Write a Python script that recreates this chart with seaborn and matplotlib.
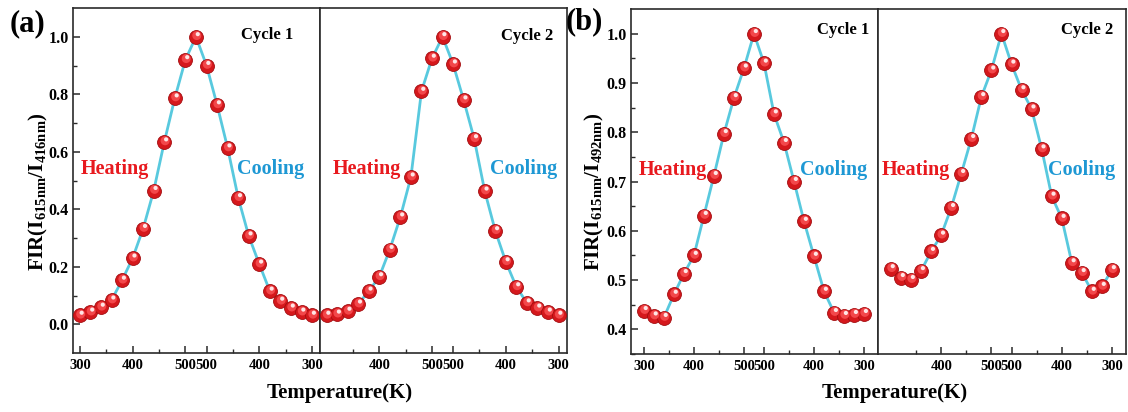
import matplotlib
matplotlib.use("Agg")
import matplotlib.pyplot as plt
import numpy as np
import pandas as pd
import seaborn as sns
from matplotlib.transforms import ScaledTranslation

# ---------------- data ----------------
step = list(range(23))                       # 11 heating points, peak, 11 cooling points
tick_pos = [0, 5, 10, 12, 17, 22]
tick_labels = ["300", "400", "500", "500", "400", "300"]
minor_pos = [2.5, 7.5, 14.5, 19.5]

a_cycle1 = [0.031, 0.042, 0.059, 0.084, 0.153, 0.230, 0.333, 0.465, 0.634, 0.787, 0.920, 1.000,
            0.900, 0.763, 0.613, 0.440, 0.307, 0.209, 0.115, 0.080, 0.056, 0.042, 0.031]
a_cycle2 = [0.031, 0.035, 0.045, 0.070, 0.115, 0.165, 0.260, 0.373, 0.512, 0.810, 0.925, 1.000,
            0.905, 0.780, 0.645, 0.463, 0.325, 0.217, 0.130, 0.074, 0.056, 0.042, 0.031]
b_cycle1 = [0.438, 0.427, 0.424, 0.471, 0.513, 0.550, 0.631, 0.712, 0.797, 0.870, 0.930, 1.000,
            0.940, 0.837, 0.779, 0.700, 0.619, 0.548, 0.477, 0.434, 0.428, 0.430, 0.432]
b_cycle2 = [0.523, 0.505, 0.501, 0.519, 0.558, 0.591, 0.647, 0.716, 0.787, 0.872, 0.926, 1.000,
            0.938, 0.886, 0.847, 0.766, 0.670, 0.625, 0.535, 0.515, 0.477, 0.487, 0.521]

LINE = "#58c9de"
RED = "#e8191e"
BLUE = "#1e98d4"

sns.set_theme(style="ticks")
plt.rcParams["font.family"] = ["Liberation Serif", "DejaVu Serif"]
plt.rcParams["text.color"] = "black"
plt.rcParams["axes.labelcolor"] = "black"
plt.rcParams["mathtext.fontset"] = "custom"
plt.rcParams["mathtext.rm"] = "Liberation Serif:bold"
plt.rcParams["mathtext.bf"] = "Liberation Serif:bold"
plt.rcParams["mathtext.it"] = "Liberation Serif:bold"

W, H = 1128, 412
fig = plt.figure(figsize=(W / 100, H / 100), dpi=100)


def px_axes(left, top, right, bottom):
    return fig.add_axes([left / W, 1 - bottom / H, (right - left) / W, (bottom - top) / H])


def draw(ax, vals):
    df = pd.DataFrame({"step": step, "fir": vals})
    sns.lineplot(data=df, x="step", y="fir", ax=ax, color=LINE, lw=2.0, zorder=2)
    sns.scatterplot(data=df, x="step", y="fir", ax=ax, s=100, color="#d5181c",
                    edgecolor="#a30d10", linewidth=0.6, zorder=3)
    sns.scatterplot(data=df, x="step", y="fir", ax=ax, s=42, color="#f2474a",
                    edgecolor="none", linewidth=0, zorder=4)
    ax.collections[-1].set_offset_transform(
        ax.transData + ScaledTranslation(0.8 / 100, 1.2 / 100, fig.dpi_scale_trans))
    sns.scatterplot(data=df, x="step", y="fir", ax=ax, s=9, color="#ffe6e6",
                    edgecolor="none", linewidth=0, zorder=5)
    ax.collections[-1].set_offset_transform(
        ax.transData + ScaledTranslation(1.8 / 100, 2.6 / 100, fig.dpi_scale_trans))
    ax.set_xlabel("")
    ax.set_ylabel("")


def style(ax, xlim, ylim, yticks, yminor, show_y, first_tick=True):
    ax.set_xlim(*xlim)
    ax.set_ylim(*ylim)
    k = 0 if first_tick else 1
    ax.set_xticks(tick_pos[k:])
    ax.set_xticklabels(tick_labels[k:])
    ax.set_xticks(minor_pos, minor=True)
    for s in ax.spines.values():
        s.set_visible(True)
        s.set_color("#2a2a2a")
        s.set_linewidth(1.2)
    ax.tick_params(axis="x", which="major", direction="in", length=5, width=1.1,
                   colors="#2a2a2a", labelcolor="black", labelsize=10.5, pad=4, top=False)
    ax.tick_params(axis="x", which="minor", direction="in", length=3, width=1.0,
                   colors="#2a2a2a", top=False)
    for lab in ax.get_xticklabels():
        lab.set_fontweight("bold")
    if show_y:
        ax.set_yticks(yticks)
        ax.set_yticklabels([f"{v:.1f}" for v in yticks])
        ax.set_yticks(yminor, minor=True)
        ax.tick_params(axis="y", which="major", direction="in", length=5, width=1.1,
                       colors="#2a2a2a", labelcolor="black", labelsize=11.5, pad=3, right=False)
        ax.tick_params(axis="y", which="minor", direction="in", length=3, width=1.0,
                       colors="#2a2a2a", right=False)
        for lab in ax.get_yticklabels():
            lab.set_fontweight("bold")
    else:
        ax.tick_params(axis="y", which="both", left=False, right=False, labelleft=False)


def annotate(ax, cycle, cyc_y, heat_x, cool_x, cyc_x):
    ax.text(cyc_x, cyc_y, cycle, transform=ax.transAxes, ha="right", va="baseline",
            fontsize=12, fontweight="bold", color="black")
    ax.text(heat_x, 0.519, "Heating", transform=ax.transAxes, ha="left", va="baseline",
            fontsize=14.5, fontweight="bold", color=RED)
    ax.text(cool_x, 0.519, "Cooling", transform=ax.transAxes, ha="left", va="baseline",
            fontsize=14.5, fontweight="bold", color=BLUE)


# ---------------- panel (a) ----------------
a1 = px_axes(73, 8, 320, 353)
a2 = px_axes(320, 8, 567, 353)
draw(a1, a_cycle1)
draw(a2, a_cycle2)
ya = [0.0, 0.2, 0.4, 0.6, 0.8, 1.0]
yam = [0.1, 0.3, 0.5, 0.7, 0.9]
style(a1, (-0.65, 22.75), (-0.1, 1.1), ya, yam, True)
style(a2, (-0.62, 22.8), (-0.1, 1.1), ya, yam, False, first_tick=False)
annotate(a1, "Cycle 1", 0.910, 0.032, 0.664, 0.891)
annotate(a2, "Cycle 2", 0.907, 0.053, 0.688, 0.943)

# ---------------- panel (b) ----------------
b1 = px_axes(631, 9, 878, 354)
b2 = px_axes(878, 9, 1126, 354)
draw(b1, b_cycle1)
draw(b2, b_cycle2)
yb = [0.4, 0.5, 0.6, 0.7, 0.8, 0.9, 1.0]
ybm = [0.35, 0.45, 0.55, 0.65, 0.75, 0.85, 0.95]
style(b1, (-1.29, 23.39), (0.35, 1.05), yb, ybm, True)
style(b2, (-1.29, 23.39), (0.35, 1.05), yb, ybm, False, first_tick=False)
annotate(b1, "Cycle 1", 0.928, 0.032, 0.684, 0.964)
annotate(b2, "Cycle 2", 0.928, 0.016, 0.685, 0.947)

# ---------------- labels ----------------
fig.text(10 / W, 1 - 24 / H, "(a)", ha="left", va="center", fontsize=22, fontweight="bold",
         color="black")
fig.text(566 / W, 1 - 22 / H, "(b)", ha="left", va="center", fontsize=22, fontweight="bold",
         color="black")
fig.text(38 / W, 1 - 192 / H, r"FIR(I$_{\mathbf{615nm}}$/I$_{\mathbf{416nm}}$)", rotation=90,
         ha="center", va="center", fontsize=15, fontweight="bold", color="black")
fig.text(594 / W, 1 - 192 / H, r"FIR(I$_{\mathbf{615nm}}$/I$_{\mathbf{492nm}}$)", rotation=90,
         ha="center", va="center", fontsize=15, fontweight="bold", color="black")
fig.text(340 / W, 1 - 393 / H, "Temperature(K)", ha="center", va="center",
         fontsize=15, fontweight="bold", color="black")
fig.text(895 / W, 1 - 393 / H, "Temperature(K)", ha="center", va="center",
         fontsize=15, fontweight="bold", color="black")

fig.savefig("out.png", dpi=100, facecolor="white")
